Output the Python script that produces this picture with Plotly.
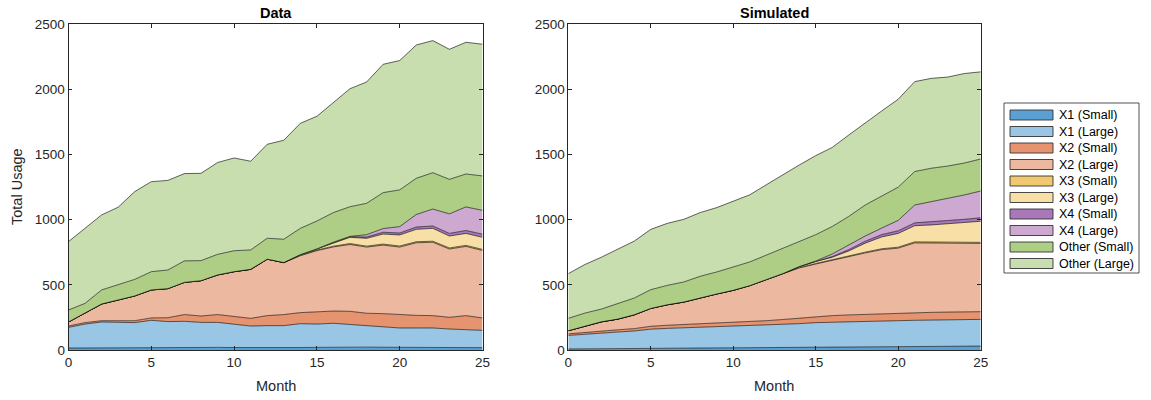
import plotly.graph_objects as go

months = list(range(26))

series_names = ["X1 (Small)", "X1 (Large)", "X2 (Small)", "X2 (Large)",
                "X3 (Small)", "X3 (Large)", "X4 (Small)", "X4 (Large)",
                "Other (Small)", "Other (Large)"]

series_colors = ["#5BA0D2", "#98C6E4", "#E69370", "#EDB8A0",
                 "#F0C86E", "#F7DFA5", "#AA78B9", "#CDA9D1",
                 "#ADCE84", "#C8DEAE"]

# ---- Data (left panel) ----
data_x1_small = [15, 16, 17, 18, 18, 20, 19, 20, 19, 20, 19, 18, 18, 19, 19, 20, 22, 24, 22, 21, 20, 20, 20, 19, 19, 18]
data_x1_large = [159, 183, 198, 194, 192, 208, 199, 200, 193, 192, 178, 166, 169, 168, 183, 179, 183, 173, 165, 158, 149, 149, 149, 142, 139, 133]
data_x2_small = [10, 11, 10, 13, 15, 18, 30, 52, 49, 60, 59, 59, 77, 85, 85, 93, 94, 100, 95, 100, 103, 97, 95, 90, 106, 95]
data_x2_large = [31, 72, 128, 159, 190, 215, 223, 247, 271, 304, 345, 376, 433, 399, 437, 471, 492, 513, 508, 526, 518, 557, 563, 524, 531, 518]
data_x3_small = [0, 0, 0, 0, 0, 0, 0, 0, 0, 0, 0, 0, 0, 0, 2, 4, 6, 7, 7, 8, 8, 8, 8, 8, 8, 8]
data_x3_large = [0, 0, 0, 0, 0, 0, 0, 0, 0, 0, 0, 0, 0, 0, 6, 9, 26, 48, 60, 77, 85, 95, 99, 92, 92, 93]
data_x4_small = [0, 0, 0, 0, 0, 0, 0, 0, 0, 0, 0, 0, 0, 0, 0, 0, 2, 5, 10, 14, 15, 18, 18, 20, 22, 24]
data_x4_large = [0, 0, 0, 0, 0, 0, 0, 0, 0, 0, 0, 0, 0, 0, 0, 0, 3, 2, 18, 28, 49, 96, 130, 150, 181, 183]
data_other_small = [92, 76, 108, 115, 127, 140, 143, 165, 154, 158, 161, 149, 161, 179, 202, 214, 227, 228, 241, 276, 282, 278, 279, 265, 253, 264]
data_other_large = [525, 576, 576, 597, 674, 691, 688, 670, 670, 705, 712, 681, 721, 760, 806, 804, 843, 906, 931, 985, 993, 1023, 1014, 998, 1011, 1011]

# ---- Simulated (right panel) ----
sim_x1_small = [8, 9, 10, 11, 12, 13, 14, 15, 16, 16, 17, 18, 19, 20, 21, 22, 23, 24, 25, 26, 27, 28, 28, 29, 29, 30]
sim_x1_large = [104, 113, 120, 127, 134, 147, 152, 155, 158, 162, 166, 168, 171, 176, 181, 188, 191, 193, 195, 196, 198, 200, 203, 204, 205, 205]
sim_x2_small = [12, 14, 16, 17, 18, 22, 24, 25, 27, 28, 29, 32, 35, 38, 42, 47, 50, 52, 54, 55, 56, 57, 58, 58, 59, 59]
sim_x2_large = [24, 49, 70, 82, 106, 137, 157, 173, 200, 224, 246, 276, 315, 352, 386, 403, 426, 449, 471, 493, 501, 537, 533, 530, 527, 524]
sim_x3_small = [0, 0, 0, 0, 0, 0, 0, 0, 0, 0, 0, 0, 0, 0, 2, 4, 5, 6, 6, 7, 7, 8, 8, 8, 8, 8]
sim_x3_large = [0, 0, 0, 0, 0, 0, 0, 0, 0, 0, 0, 0, 0, 0, 8, 16, 17, 36, 69, 91, 106, 124, 130, 141, 150, 162]
sim_x4_small = [0, 0, 0, 0, 0, 0, 0, 0, 0, 0, 0, 0, 0, 0, 0, 1, 5, 10, 15, 18, 20, 22, 23, 24, 25, 27]
sim_x4_large = [0, 0, 0, 0, 0, 0, 0, 0, 0, 0, 0, 0, 0, 0, 0, 2, 20, 35, 40, 50, 80, 137, 155, 170, 187, 205]
sim_other_small = [95, 98, 98, 118, 129, 144, 149, 154, 165, 169, 180, 182, 188, 193, 188, 202, 211, 220, 238, 244, 255, 257, 257, 248, 245, 246]
sim_other_large = [343, 373, 398, 417, 437, 463, 476, 481, 489, 494, 507, 515, 540, 566, 592, 607, 607, 625, 632, 655, 675, 690, 690, 683, 687, 669]

data_series = [data_x1_small, data_x1_large, data_x2_small, data_x2_large,
               data_x3_small, data_x3_large, data_x4_small, data_x4_large,
               data_other_small, data_other_large]
sim_series = [sim_x1_small, sim_x1_large, sim_x2_small, sim_x2_large,
              sim_x3_small, sim_x3_large, sim_x4_small, sim_x4_large,
              sim_other_small, sim_other_large]

x_ticks = [0, 5, 10, 15, 20, 25]
y_ticks = [0, 500, 1000, 1500, 2000, 2500]

FONT = "Liberation Sans, Arial, sans-serif"
AX = "#262626"

fig = go.Figure()
for panel, (series, xa, ya, grp) in enumerate([(data_series, "x", "y", "L"),
                                                (sim_series, "x2", "y2", "R")]):
    for name, vals, col in zip(series_names, series, series_colors):
        fig.add_trace(go.Scatter(
            x=months, y=vals, name=name, mode="lines",
            stackgroup=grp, line=dict(color="black", width=0.6),
            fillcolor=col, xaxis=xa, yaxis=ya,
            showlegend=False, hoverinfo="skip"))

W, H = 1151, 400
def px_x(p): return p / W
def px_y(p): return 1 - p / H

axis_common = dict(showgrid=False, zeroline=False, showline=True, linecolor=AX,
                   linewidth=0.8, mirror="ticks", ticks="inside", ticklen=4,
                   tickcolor=AX, tickwidth=0.8, automargin=False,
                   tickfont=dict(family=FONT, size=13.5, color=AX))

def ann(text, x, y, size=14.5, color=AX, angle=0, xanchor="center"):
    return dict(text=text, x=x, y=y, xref="paper", yref="paper", showarrow=False,
                xanchor=xanchor, yanchor="middle", textangle=angle,
                font=dict(family=FONT, size=size, color=color))

lx = (px_x(68.5) + px_x(482.5)) / 2
rx = (px_x(568.3) + px_x(980.7)) / 2

annotations = [
    ann("<b>Data</b>", lx, px_y(13), color="black"),
    ann("<b>Simulated</b>", rx, px_y(13), color="black"),
    ann("Month", lx, px_y(386)),
    ann("Month", rx, px_y(386)),
    ann("Total Usage", px_x(17), px_y(187), angle=-90),
]

# Legend box drawn with shapes and text
shapes = [dict(type="rect", xref="paper", yref="paper",
               x0=px_x(1004), x1=px_x(1139), y0=px_y(273), y1=px_y(103),
               line=dict(color=AX, width=0.8), fillcolor="white")]
for i, (name, col) in enumerate(zip(series_names, series_colors)):
    cy = 115 + i * 16.5
    shapes.append(dict(type="rect", xref="paper", yref="paper",
                       x0=px_x(1010), x1=px_x(1053), y0=px_y(cy + 5), y1=px_y(cy - 5),
                       line=dict(color="#333333", width=0.9), fillcolor=col))
    annotations.append(ann(name, px_x(1057), px_y(cy), size=12.5, color="black",
                           xanchor="left"))

fig.update_layout(
    width=W, height=H, autosize=False,
    margin=dict(l=0, r=0, t=0, b=0, pad=0, autoexpand=False),
    paper_bgcolor="white", plot_bgcolor="white", showlegend=False,
    font=dict(family=FONT, color=AX),
    xaxis=dict(domain=[px_x(68.5), px_x(482.5)], range=[0, 25], tickvals=x_ticks,
               anchor="y", **axis_common),
    yaxis=dict(domain=[px_y(350), px_y(24.3)], range=[0, 2500], tickvals=y_ticks,
               anchor="x", **axis_common),
    xaxis2=dict(domain=[px_x(568.3), px_x(980.7)], range=[0, 25], tickvals=x_ticks,
                anchor="y2", **axis_common),
    yaxis2=dict(domain=[px_y(350), px_y(24.3)], range=[0, 2500], tickvals=y_ticks,
                anchor="x2", **axis_common),
    shapes=shapes,
    annotations=annotations,
)

fig.write_html("out.html")
